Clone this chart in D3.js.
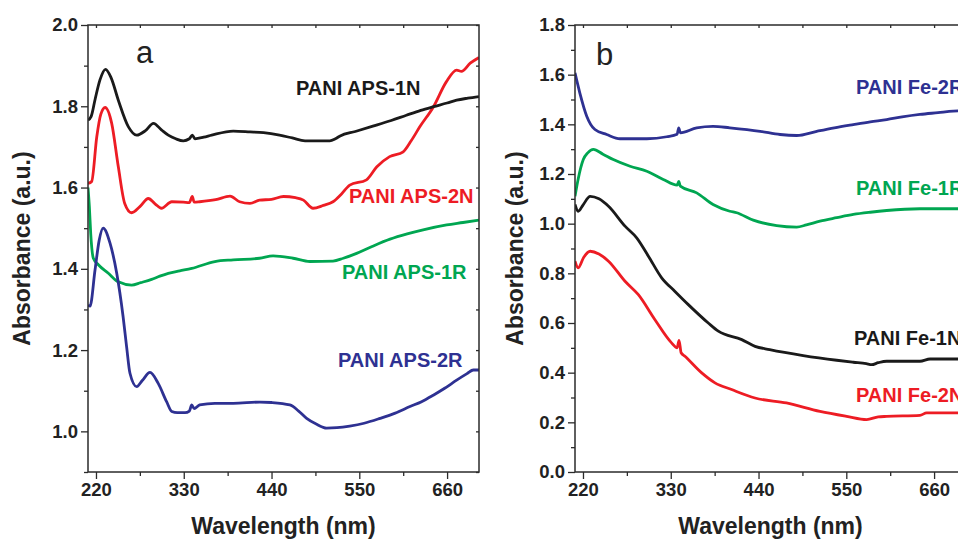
<!DOCTYPE html>
<html><head><meta charset="utf-8">
<script src="https://cdn.jsdelivr.net/npm/d3@7"></script>
<style>body{margin:0;background:#fff;overflow:hidden}svg{display:block}text{font-family:"Liberation Sans",Arial,sans-serif}</style>
</head><body><svg id="c" width="958" height="540"></svg>
<script>
// ---------- DATA ----------
const xTicks = [220, 330, 440, 550, 660];
const yTicksA = [1.0, 1.2, 1.4, 1.6, 1.8, 2.0];
const yTicksB = [0.0, 0.2, 0.4, 0.6, 0.8, 1.0, 1.2, 1.4, 1.6, 1.8];

// Panel a
const aps1N_wl = [210,214,219,225,232,239,248,260.5,271,282,292,302,310.6,320,329.5,337,340.7,344,355,365,392,413,430,450,466,482,513,520,526,545,567,590,609,627,643,660,672,686,700];
const aps1N    = [1.766,1.775,1.818,1.865,1.891,1.87,1.815,1.75,1.729,1.74,1.758,1.742,1.729,1.72,1.715,1.72,1.729,1.72,1.724,1.729,1.739,1.737,1.735,1.729,1.722,1.715,1.715,1.72,1.727,1.738,1.751,1.765,1.778,1.79,1.799,1.808,1.815,1.82,1.824];

const aps2N_wl = [210,214.6,221,226,231.5,239.7,248,256,264.7,275,285.6,294,302,315,329.5,337,340.7,343,350,370,388,400,413,425,440,455,470,480,492,505,517,528,538,559,572,588,605,615,626,643,659,672,678,689,700];
const aps2N    = [1.61,1.615,1.725,1.78,1.797,1.758,1.651,1.561,1.538,1.553,1.573,1.56,1.549,1.565,1.564,1.563,1.578,1.564,1.565,1.57,1.579,1.565,1.561,1.569,1.571,1.578,1.575,1.569,1.549,1.556,1.565,1.585,1.606,1.619,1.651,1.676,1.688,1.715,1.75,1.799,1.86,1.889,1.886,1.906,1.92];

const aps1R_wl = [210,211.7,213.4,216.7,223,235.5,248,264.7,276,289.7,300,310.6,325,340,369,392,425,442,467,488,517,530,546.6,566,588.5,610,630,659.5,680,700];
const aps1R    = [1.60,1.553,1.487,1.426,1.41,1.389,1.368,1.36,1.366,1.374,1.382,1.389,1.395,1.401,1.418,1.422,1.426,1.432,1.426,1.418,1.419,1.426,1.438,1.455,1.473,1.486,1.496,1.508,1.514,1.52];

const aps2R_wl = [210,212.5,218.8,224,229,237.6,246,254,258.4,262.6,271,278,287.7,298,308.5,315,322,331.6,337,340,343,350,369,392,425.5,440,463,474,484,496,509,522,538,556,576,595,613.5,628,642.7,657,672,685,693,700];
const aps2R    = [1.311,1.308,1.397,1.47,1.5,1.463,1.389,1.282,1.208,1.143,1.11,1.125,1.145,1.118,1.073,1.049,1.046,1.046,1.05,1.065,1.056,1.065,1.069,1.069,1.072,1.071,1.065,1.05,1.032,1.018,1.008,1.009,1.013,1.02,1.032,1.045,1.061,1.073,1.089,1.106,1.126,1.142,1.151,1.151];

// Panel b
const fe2R_wl = [210,216,224.7,235,249.7,266.4,300,325,338,340,342,362.5,383,404,442,467,487.8,513,535,558.8,580,600.6,620,642.3,665,684,700];
const fe2R    = [1.607,1.527,1.433,1.379,1.359,1.342,1.342,1.35,1.36,1.386,1.366,1.386,1.392,1.386,1.372,1.359,1.355,1.372,1.386,1.399,1.41,1.419,1.43,1.44,1.447,1.453,1.455];

const fe1R_wl = [210,214,220.4,226,233,245,258,279,300,320.6,338,340,342,362.5,383,404,412.6,433.4,462.8,487.8,500,517,538,558.8,580,600.6,642.3,670,700];
const fe1R    = [1.11,1.18,1.258,1.285,1.299,1.28,1.258,1.231,1.211,1.178,1.155,1.17,1.151,1.124,1.077,1.05,1.044,1.014,0.992,0.986,0.995,1.01,1.024,1.037,1.046,1.053,1.06,1.06,1.06];

const fe1N_wl = [210,214,220,229,240,252,272.7,287.3,302,318.6,335,352,377,389.6,419,435.6,454,496,538,558.8,575,581.8,590,600.6,642.3,655,700];
const fe1N    = [1.077,1.05,1.075,1.11,1.1,1.07,0.99,0.943,0.869,0.782,0.728,0.674,0.6,0.567,0.533,0.506,0.493,0.469,0.45,0.442,0.436,0.432,0.44,0.446,0.446,0.455,0.455];

const fe2N_wl = [210,214,221,229,240,252,272.7,289.4,310,331,338,340.4,343,347.8,368.8,385.4,406.3,435.6,475,517,550.5,575.5,590,600.6,642.3,650.7,700];
const fe2N    = [0.849,0.822,0.865,0.889,0.878,0.849,0.768,0.714,0.614,0.52,0.5,0.53,0.48,0.466,0.399,0.359,0.332,0.298,0.278,0.244,0.224,0.211,0.222,0.224,0.228,0.238,0.238];

const labelsA = ["PANI APS-1N","PANI APS-2N","PANI APS-1R","PANI APS-2R"];
const labelsB = ["PANI Fe-2R","PANI Fe-1R","PANI Fe-1N","PANI Fe-2N"];

// ---------- DRAW ----------
const BLACK="#1a1a1a", RED="#ed1c24", GREEN="#00a651", BLUE="#2e3192", AX="#2b2b2b";
const svg = d3.select("#c");

function panel(cfg){
  const x = d3.scaleLinear().domain([210,700]).range(cfg.xr);
  const y = d3.scaleLinear().domain(cfg.yd).range([472,25]);
  const g = svg.append("g");
  const clipId = "clip"+cfg.id;
  svg.append("clipPath").attr("id",clipId).append("rect")
    .attr("x",cfg.xr[0]).attr("y",25).attr("width",cfg.xr[1]-cfg.xr[0]).attr("height",447);
  const line = d3.line().x(d=>x(d[0])).y(d=>y(d[1])).curve(d3.curveMonotoneX);
  cfg.series.forEach(s=>{
    const pts = s.wl.map((w,i)=>[w,s.v[i]]);
    g.append("path").attr("d",line(pts)).attr("fill","none")
      .attr("stroke",s.c).attr("stroke-width",2.8).attr("stroke-linejoin","round")
      .attr("clip-path","url(#"+clipId+")");
  });
  g.append("rect").attr("x",cfg.xr[0]).attr("y",25).attr("width",cfg.xr[1]-cfg.xr[0]).attr("height",447)
    .attr("fill","none").attr("stroke",AX).attr("stroke-width",1.5);
  const xMinor = d3.range(275, 700, 110);
  g.append("g").attr("transform","translate(0,472)")
    .call(d3.axisBottom(x).tickValues(xTicks).tickSize(7).tickPadding(4).tickFormat(d3.format("d")));
  g.append("g").attr("transform","translate(0,472)")
    .call(d3.axisBottom(x).tickValues(xMinor).tickSize(4).tickFormat(""));
  g.append("g").attr("transform","translate(0,25)")
    .call(d3.axisBottom(x).tickValues(xTicks.concat(xMinor)).tickSize(3).tickFormat(""));
  g.append("g").attr("transform","translate("+cfg.xr[0]+",0)")
    .call(d3.axisLeft(y).tickValues(cfg.yt).tickSize(7).tickPadding(3).tickFormat(d3.format(".1f")));
  g.append("g").attr("transform","translate("+cfg.xr[0]+",0)")
    .call(d3.axisLeft(y).tickValues(cfg.yMinor).tickSize(4).tickFormat(""));
  g.append("g").attr("transform","translate("+cfg.xr[1]+",0)")
    .call(d3.axisLeft(y).tickValues(cfg.yt.concat(cfg.yMinor)).tickSize(3).tickFormat(""));
  g.selectAll(".domain").remove();
  g.selectAll(".tick line").attr("stroke",AX).attr("stroke-width",1.3);
  g.selectAll(".tick text").attr("fill","#222").style("font-size","18.5px").style("font-weight","bold")
    .style("font-family","'Liberation Sans',Arial,sans-serif");
  g.append("text").attr("x",(cfg.xr[0]+cfg.xr[1])/2).attr("y",534).attr("text-anchor","middle")
    .style("font-size","23px").style("font-weight","bold").attr("fill","#222").text("Wavelength (nm)");
  g.append("text").attr("transform","translate("+cfg.yTitleX+",248.5) rotate(-90)").attr("text-anchor","middle")
    .style("font-size","23px").style("font-weight","bold").attr("fill","#222").text("Absorbance (a.u.)");
  g.append("text").attr("x",cfg.letter[0]).attr("y",cfg.letter[1]).style("font-size","31px").attr("fill","#222").text(cfg.letter[2]);
  cfg.labels.forEach(l=>{
    g.append("text").attr("x",l[0]).attr("y",l[1]).style("font-size","20px").style("font-weight","bold")
      .attr("fill",l[3]).text(l[2]);
  });
}

panel({id:"a", xr:[88,479], yd:[0.9,2.0], yt:yTicksA, yMinor:[0.9,1.1,1.3,1.5,1.7,1.9], yTitleX:30,
  letter:[136,63,"a"],
  series:[{wl:aps1R_wl,v:aps1R,c:GREEN},{wl:aps2R_wl,v:aps2R,c:BLUE},{wl:aps2N_wl,v:aps2N,c:RED},{wl:aps1N_wl,v:aps1N,c:BLACK}],
  labels:[[296,95,labelsA[0],BLACK],[349,203,labelsA[1],RED],[342,279,labelsA[2],GREEN],[338,367,labelsA[3],BLUE]]});

panel({id:"b", xr:[575,966], yd:[0,1.8], yt:yTicksB, yMinor:[0.1,0.3,0.5,0.7,0.9,1.1,1.3,1.5,1.7], yTitleX:523,
  letter:[596,65,"b"],
  series:[{wl:fe2N_wl,v:fe2N,c:RED},{wl:fe1N_wl,v:fe1N,c:BLACK},{wl:fe1R_wl,v:fe1R,c:GREEN},{wl:fe2R_wl,v:fe2R,c:BLUE}],
  labels:[[856,94,labelsB[0],BLUE],[856,195,labelsB[1],GREEN],[854,345,labelsB[2],BLACK],[856,402,labelsB[3],RED]]});
</script></body></html>
